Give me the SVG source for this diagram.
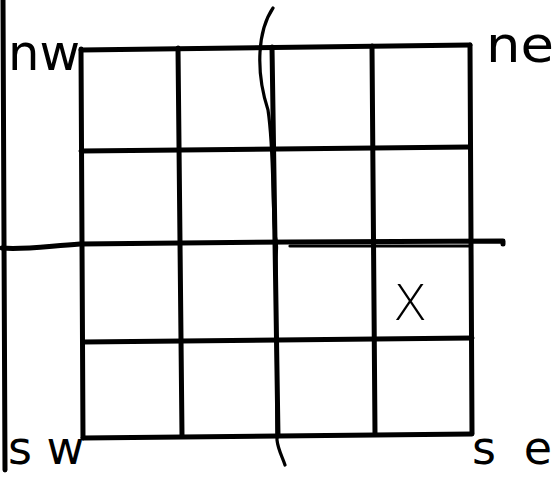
<svg xmlns="http://www.w3.org/2000/svg" width="558" height="477" viewBox="0 0 558 477">
<style>
.ln{fill:none;stroke:#000;stroke-width:5;stroke-linecap:round;stroke-linejoin:round}
.th{fill:none;stroke:#000;stroke-width:3.2;stroke-linecap:round;stroke-linejoin:round}
.lb{font-family:"DejaVu Sans",sans-serif;font-size:50px;fill:#000}
.lb2{font-family:"DejaVu Sans",sans-serif;font-size:46px;fill:#000}
</style>
<rect width="558" height="477" fill="#fff"/>
<g id="border">
<path class="ln" d="M3 0 L4 240 L5 470"/>
</g>
<g id="grid">
<path class="ln" d="M81 49 L83 438"/>
<path class="ln" d="M178 48 L182 436"/>
<path class="ln" d="M272 47 L278 436"/>
<path class="ln" d="M372 46 L375 434"/>
<path class="ln" d="M470 45 L472 433"/>
<path class="ln" d="M81 50 L470 45"/>
<path class="ln" d="M81 151 L470 147"/>
<path class="ln" d="M83 342 L472 338"/>
<path class="ln" d="M83 438 L472 434"/>
</g>
<g id="axes">
<path class="ln" d="M2 248 C20 250 40 247 80 244 L290 242 L503 241 L503 244"/>
<path class="th" d="M290 246 L470 246"/>
<path class="th" d="M273 8 C258 30 255 70 268 110 C274 150 272 200 275 235 C278 245 276 250 276 260 L277 440 C278 450 283 458 285 465"/>
</g>
<g id="labels">
<text class="lb" x="8" y="70" textLength="72" lengthAdjust="spacingAndGlyphs">nw</text>
<text class="lb" x="486" y="62" textLength="68" lengthAdjust="spacingAndGlyphs">ne</text>
<text class="lb2" x="8" y="464" textLength="76" lengthAdjust="spacing">sw</text>
<text class="lb2" x="472" y="464" textLength="80" lengthAdjust="spacing">se</text>
<text x="393" y="320" style="font-family:'DejaVu Sans',sans-serif;font-size:50px;font-weight:300">X</text>
</g>
</svg>
